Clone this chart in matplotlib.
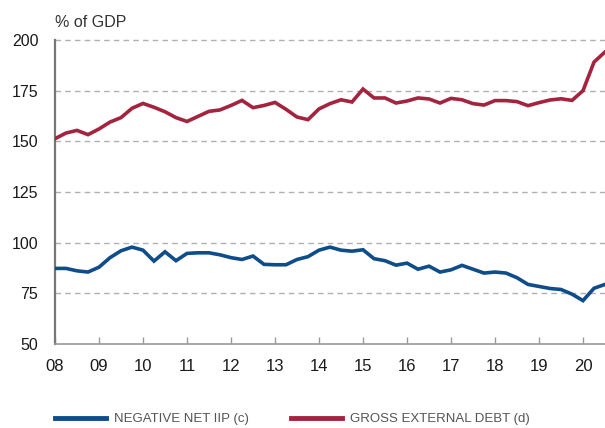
import matplotlib
matplotlib.use("Agg")
import matplotlib.pyplot as plt
import numpy as np

# Quarterly data 2008Q1 .. 2020Q3
start_year = 2008
negative_net_iip = [87.3, 87.3, 86.1, 85.5, 87.9, 92.6, 96.0, 97.8, 96.3, 90.9,
                    95.5, 91.1, 94.7, 95.0, 95.0, 94.0, 92.6, 91.7, 93.4, 89.3,
                    89.1, 89.1, 91.7, 93.1, 96.3, 97.8, 96.3, 95.8, 96.5, 92.1,
                    91.1, 88.9, 89.9, 86.9, 88.4, 85.5, 86.6, 88.8, 86.9, 85.0,
                    85.5, 85.0, 82.7, 79.4, 78.4, 77.4, 76.9, 74.6, 71.4, 77.5,
                    79.4]
gross_external_debt = [151.3, 154.1, 155.4, 153.3, 156.1, 159.5, 161.7, 166.3, 168.7, 166.8,
                       164.6, 161.7, 159.8, 162.3, 164.8, 165.5, 167.7, 170.2, 166.6, 167.7,
                       169.2, 165.8, 162.0, 160.7, 166.0, 168.6, 170.5, 169.4, 175.8, 171.4,
                       171.4, 168.9, 169.9, 171.4, 170.9, 168.9, 171.2, 170.5, 168.6, 167.9,
                       170.1, 170.1, 169.6, 167.6, 169.1, 170.4, 171.0, 170.2, 175.0, 189.1,
                       194.1]
series_labels = ["NEGATIVE NET IIP (c)", "GROSS EXTERNAL DEBT (d)"]
year_ticks = list(range(2008, 2021))
year_labels = [f"{y % 100:02d}" for y in year_ticks]
y_ticks = [50, 75, 100, 125, 150, 175, 200]

x = start_year + np.arange(len(negative_net_iip)) * 0.25

plt.rcParams['font.family'] = ['Liberation Sans', 'DejaVu Sans']

fig = plt.figure(figsize=(6.05, 4.28), dpi=100)
ax = fig.add_axes([55/605, 1 - 344/428, 1 - 55/605, (344 - 40)/428])

blue = "#0e4d8a"
red = "#a3243f"
l1, = ax.plot(x, negative_net_iip, color=blue, lw=2.6, solid_joinstyle='miter', zorder=3)
l2, = ax.plot(x, gross_external_debt, color=red, lw=2.6, solid_joinstyle='miter', zorder=3)

ax.set_xlim(2008, 2020.5)
ax.set_ylim(50, 200)
ax.set_yticks(y_ticks)
ax.set_xticks(year_ticks)
ax.set_xticklabels(year_labels)

for v in y_ticks[1:]:
    ax.axhline(v, color="#b0b0b0", lw=1.0, ls=(0, (4, 3)), zorder=1, clip_on=False)

for s in ["top", "right"]:
    ax.spines[s].set_visible(False)
ax.spines["left"].set_color("#777777")
ax.spines["left"].set_linewidth(1.6)
ax.spines["bottom"].set_color("#999999")
ax.spines["bottom"].set_linewidth(1.2)

ax.tick_params(axis="y", length=0, pad=12, labelsize=11.5, labelcolor="#1a1a1a")
ax.tick_params(axis="x", direction="in", length=5, width=1, color="#999999",
               pad=11, labelsize=12, labelcolor="#1a1a1a")

fig.text(55/605, 1 - 27/428, "% of GDP", fontsize=11.5, color="#333333", ha="left", va="baseline")

legend_x = [55/605, 291/605]
for handle, label, lx in zip([l1, l2], series_labels, legend_x):
    leg = fig.legend([handle], [label], loc="center left", bbox_to_anchor=(lx, 1 - 419/428),
                     frameon=False, fontsize=9.5, handlelength=3.9, handletextpad=0.55,
                     borderaxespad=0, borderpad=0)
    for t in leg.get_texts():
        t.set_color("#555555")
    for h in leg.get_lines():
        h.set_linewidth(3.5)

fig.savefig("out.png", dpi=100)
